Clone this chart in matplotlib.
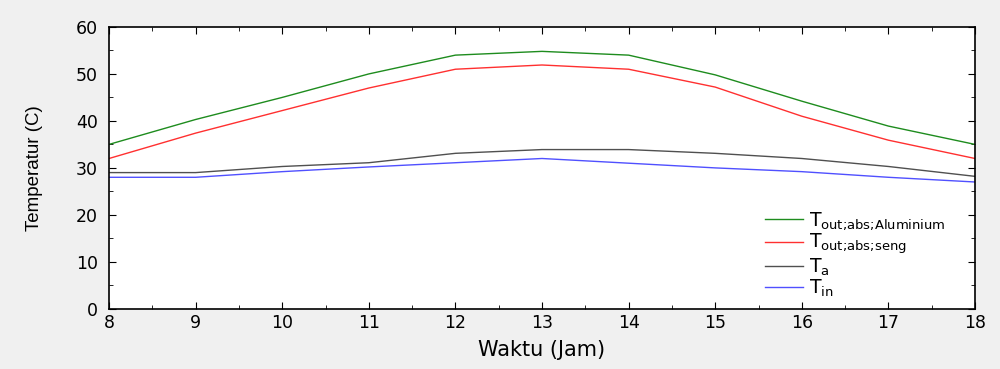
import matplotlib.pyplot as plt
from matplotlib.ticker import MultipleLocator

jam = [8, 9, 10, 11, 12, 13, 14, 15, 16, 17, 18]
t_alu = [35, 40.3, 45, 50, 54, 54.8, 54, 49.8, 44.2, 38.9, 35]
t_seng = [32, 37.4, 42.2, 47, 51, 51.9, 51, 47.2, 41, 35.9, 32]
t_a = [29, 29, 30.3, 31.1, 33.1, 33.9, 33.9, 33.1, 32, 30.3, 28.2]
t_in = [28, 28, 29.2, 30.2, 31.1, 32, 31, 30, 29.2, 28, 27]

plt.rcParams["font.family"] = ["DejaVu Sans"]
plt.rcParams["mathtext.fontset"] = "custom"
plt.rcParams["mathtext.rm"] = "DejaVu Sans"
plt.rcParams["mathtext.it"] = "DejaVu Sans"

fig = plt.figure(figsize=(10, 3.69), dpi=100, facecolor="#f0f0f0")
ax = fig.add_axes([0.109, 0.163, 0.866, 0.764])

ax.plot(jam, t_alu, color="#1e8c1e", lw=1.0, label=r"T$_{\text{out;abs;Aluminium}}$")
ax.plot(jam, t_seng, color="#ff3030", lw=1.0, label=r"T$_{\text{out;abs;seng}}$")
ax.plot(jam, t_a, color="#505050", lw=1.0, label=r"T$_{\mathrm{a}}$")
ax.plot(jam, t_in, color="#5050ff", lw=1.0, label=r"T$_{\mathrm{in}}$")

ax.set_xlim(8, 18)
ax.set_ylim(0, 60)
ax.xaxis.set_major_locator(MultipleLocator(1))
ax.xaxis.set_minor_locator(MultipleLocator(0.5))
ax.yaxis.set_major_locator(MultipleLocator(10))
ax.yaxis.set_minor_locator(MultipleLocator(5))
ax.tick_params(which="both", direction="in", top=True, right=True, labelsize=12.5)
ax.tick_params(which="major", length=5)
ax.tick_params(which="minor", length=3)
ax.tick_params(axis="y", pad=8)
ax.tick_params(axis="x", pad=4)
for s in ax.spines.values():
    s.set_linewidth(1.2)

ax.set_xlabel("Waktu (Jam)", fontsize=15)
ax.xaxis.set_label_coords(0.5, -0.11)
ax.set_ylabel("Temperatur (C)", fontsize=13.5, family=["Liberation Sans"])
ax.yaxis.set_label_coords(-0.076, 0.5)

ax.legend(loc="lower right", bbox_to_anchor=(0.985, -0.025), frameon=False, fontsize=13.5,
          handlelength=2.0, labelspacing=0.0, handletextpad=0.3)

fig.savefig("out.png", dpi=100, facecolor=fig.get_facecolor())
